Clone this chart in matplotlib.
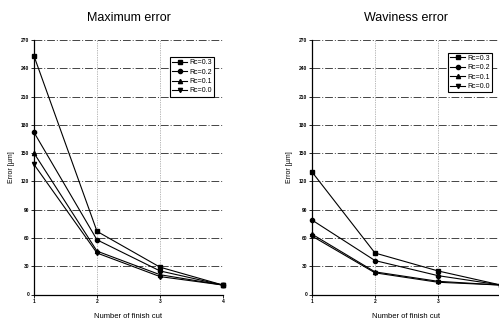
import numpy as np
import matplotlib
matplotlib.use("Agg")
import matplotlib.pyplot as plt

plt.rcParams['font.family'] = ['Liberation Sans', 'DejaVu Sans']

cuts = [1, 2, 3, 4]
labels = ["Rc=0.3", "Rc=0.2", "Rc=0.1", "Rc=0.0"]
markers = ["s", "o", "^", "v"]

# Maximum error [um]
max_err = [
    [253, 67, 29, 10],
    [172, 58, 25, 10],
    [150, 46, 21, 10],
    [138, 44, 19, 10],
]

# Waviness error [um]
wav_err = [
    [130, 44, 25, 10],
    [79, 36, 20, 10],
    [64, 24, 14, 10],
    [62, 23, 13, 10],
]

yticks = list(range(0, 271, 30))

fig = plt.figure(figsize=(4.99, 3.26), dpi=100)


def draw(ax, data, title, leg_pos, xlabels):
    for vals, lab, m in zip(data, labels, markers):
        ax.plot(cuts, vals, color='black', lw=0.8, marker=m, ms=3,
                label=lab, clip_on=False)
    ax.set_xlim(1, 4)
    ax.set_ylim(0, 270)
    ax.set_xticks(cuts)
    ax.set_xticklabels(xlabels)
    ax.set_yticks(yticks)
    ax.tick_params(labelsize=3.5, length=2, width=0.6, pad=1.5)
    for t in ax.get_xticklabels() + ax.get_yticklabels():
        t.set_fontweight('bold')
    ax.grid(axis='y', color='#444444', lw=0.7, ls=(0, (8, 2, 1, 2)))
    ax.grid(axis='x', color='#777777', lw=0.5, ls=(0, (1, 1.5)))
    ax.spines['top'].set_visible(False)
    ax.spines['right'].set_visible(False)
    ax.spines['left'].set_linewidth(0.9)
    ax.spines['bottom'].set_linewidth(0.9)
    ax.set_title(title, fontsize=9, pad=14)
    ax.set_xlabel("Number of finish cut", fontsize=5.5, labelpad=6)
    ax.set_ylabel("Error [µm]", fontsize=5, labelpad=4)
    leg = ax.legend(loc='upper left', bbox_to_anchor=leg_pos, fontsize=5,
                    frameon=True, fancybox=False, borderaxespad=0,
                    handlelength=2.2, handletextpad=0.3, labelspacing=0.35,
                    borderpad=0.3, framealpha=1)
    leg.get_frame().set_edgecolor('black')
    leg.get_frame().set_linewidth(0.8)


ax1 = fig.add_axes([34 / 499, 31.5 / 326, 189 / 499, 254.5 / 326])
draw(ax1, max_err, "Maximum error", (0.72, 0.933), ["1", "2", "3", "4"])

# right panel runs off the image edge, so its last tick label is not shown
ax2 = fig.add_axes([312 / 499, 31.5 / 326, 189 / 499, 254.5 / 326])
draw(ax2, wav_err, "Waviness error", (0.72, 0.95), ["1", "2", "3", ""])

fig.savefig("out.png", dpi=100)
